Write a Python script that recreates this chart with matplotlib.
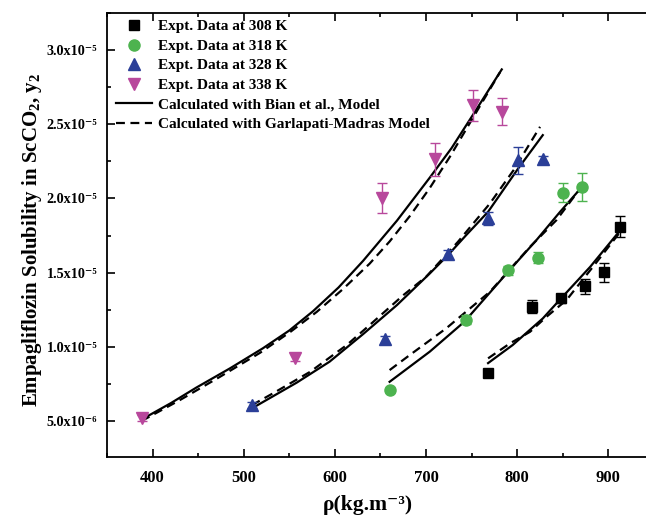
import numpy as np
import matplotlib
matplotlib.use('Agg')
import matplotlib.pyplot as plt
from matplotlib.lines import Line2D
from matplotlib.ticker import MultipleLocator, FixedLocator, FixedFormatter

plt.rcParams['font.family'] = ['Liberation Serif', 'DejaVu Serif']
plt.rcParams['font.weight'] = 'bold'
plt.rcParams['axes.labelweight'] = 'bold'
plt.rcParams['mathtext.fontset'] = 'custom'
plt.rcParams['mathtext.rm'] = 'Liberation Serif:bold'
plt.rcParams['mathtext.it'] = 'Liberation Serif:bold'
plt.rcParams['mathtext.bf'] = 'Liberation Serif:bold'
plt.rcParams['mathtext.default'] = 'bf'

# experimental data (solubility in units of 1e-6)
rho_308 = [768, 816, 848, 874, 895, 913]
y_308 = [8.21, 12.7, 13.26, 14.09, 15.01, 18.09]
err_308 = [0.15, 0.45, 0.3, 0.5, 0.64, 0.72]

rho_318 = [660, 744, 790, 823, 850, 871]
y_318 = [7.08, 11.84, 15.17, 16.02, 20.4, 20.78]
err_318 = [0.15, 0.3, 0.3, 0.4, 0.67, 0.94]

rho_328 = [509, 655, 724, 768, 801, 828]
y_328 = [6.07, 10.5, 16.23, 18.65, 22.58, 22.65]
err_328 = [0.2, 0.25, 0.3, 0.45, 0.92, 0.2]

rho_338 = [388, 556, 652, 710, 751, 783]
y_338 = [5.17, 9.26, 20.0, 22.63, 26.29, 25.84]
err_338 = [0.2, 0.25, 1.01, 1.12, 1.04, 0.91]

# Bian et al. model curves
bian_rho_308 = [768, 795, 828, 848, 880, 913]
bian_y_308 = [8.9, 10.12, 11.91, 13.26, 15.39, 17.86]
bian_rho_318 = [660, 704, 742, 790, 821, 847, 871]
bian_y_318 = [7.64, 9.67, 11.69, 15.06, 17.19, 19.1, 20.78]
bian_rho_328 = [509, 558, 594, 631, 668, 704, 724, 744, 768, 801, 828]
bian_y_328 = [5.85, 7.58, 8.99, 10.86, 12.81, 14.94, 16.18, 17.53, 19.1, 22.02, 24.27]
bian_rho_338 = [388, 420, 448, 485, 521, 550, 576, 604, 631, 668, 704, 728, 751, 783]
bian_y_338 = [5.1, 6.2, 7.25, 8.55, 9.9, 11.1, 12.4, 14.0, 15.8, 18.5, 21.4, 23.4,
              25.6, 28.7]

# Garlapati-Madras model curves
gm_rho_308 = [768, 792, 814, 832, 854, 883, 913]
gm_y_308 = [9.22, 10.23, 11.01, 12.02, 13.15, 15.39, 17.75]
gm_rho_318 = [660, 682, 722, 770, 814, 843, 869]
gm_y_318 = [8.43, 9.44, 11.24, 13.71, 16.74, 18.54, 20.67]
gm_rho_328 = [509, 532, 573, 613, 638, 675, 700, 735, 770, 796, 825]
gm_y_328 = [6.07, 6.86, 8.32, 10.12, 11.46, 13.48, 14.72, 17.08, 19.66, 21.91, 24.83]
gm_rho_338 = [388, 430, 474, 518, 551, 580, 609, 638, 660, 682, 704, 726, 752, 781]
gm_y_338 = [5.0, 6.41, 7.98, 9.6, 11.0, 12.35, 13.9, 15.6, 17.1, 18.8, 20.7,
            22.8, 25.5, 28.5]

labels = ['Expt. Data at 308 K', 'Expt. Data at 318 K',
          'Expt. Data at 328 K', 'Expt. Data at 338 K']
colors = ['#000000', '#4DB34F', '#2B3F98', '#B8489C']
markers = ['s', 'o', '^', 'v']
sizes = [7.5, 8, 8.5, 8.5]

yticks = [5e-6, 1e-5, 1.5e-5, 2e-5, 2.5e-5, 3e-5]
ytick_labels = ['5.0x10⁻⁶', '1.0x10⁻⁵', '1.5x10⁻⁵',
                '2.0x10⁻⁵', '2.5x10⁻⁵', '3.0x10⁻⁵']

fig = plt.figure(figsize=(6.46, 5.22), dpi=100)
ax = fig.add_axes([0.1656, 0.1245, 0.8468, 0.8505])

exp_data = [(rho_308, y_308, err_308), (rho_318, y_318, err_318),
            (rho_328, y_328, err_328), (rho_338, y_338, err_338)]
bian = [(bian_rho_308, bian_y_308), (bian_rho_318, bian_y_318),
        (bian_rho_328, bian_y_328), (bian_rho_338, bian_y_338)]
gm = [(gm_rho_308, gm_y_308), (gm_rho_318, gm_y_318),
      (gm_rho_328, gm_y_328), (gm_rho_338, gm_y_338)]

for (x, y), (x2, y2) in zip(bian, gm):
    ax.plot(x, np.array(y)*1e-6, color='k', lw=1.6, zorder=2)
    ax.plot(x2, np.array(y2)*1e-6, color='k', lw=1.6, dashes=(4, 2.5), zorder=2)

handles = []
for i, (x, y, e) in enumerate(exp_data):
    ax.errorbar(x, np.array(y)*1e-6, yerr=np.array(e)*1e-6, fmt='none',
                ecolor=colors[i], elinewidth=1, capsize=3.5, capthick=1, zorder=3)
    ax.plot(x, np.array(y)*1e-6, ls='none', marker=markers[i], ms=sizes[i],
            color=colors[i], mec=colors[i], zorder=4)
    handles.append(Line2D([], [], ls='none', marker=markers[i], ms=sizes[i],
                          color=colors[i]))

handles.append(Line2D([], [], color='k', lw=1.6))
handles.append(Line2D([], [], color='k', lw=1.6, dashes=(4, 2.5)))
leg_labels = labels + ['Calculated with Bian et al., Model',
                       'Calculated with Garlapati-Madras Model']
ax.legend(handles, leg_labels, loc='upper left', bbox_to_anchor=(0.016, 0.985),
          frameon=False, fontsize=11, handlelength=2.4, handletextpad=0.35,
          labelspacing=0.38, borderpad=0, borderaxespad=0)

ax.set_xlim(350, 950)
ax.set_ylim(2.57e-6, 3.25e-5)
ax.xaxis.set_major_locator(MultipleLocator(100))
ax.xaxis.set_minor_locator(MultipleLocator(50))
ax.yaxis.set_major_locator(FixedLocator(yticks))
ax.yaxis.set_major_formatter(FixedFormatter(ytick_labels))
ax.yaxis.set_minor_locator(MultipleLocator(2.5e-6))
ax.tick_params(which='both', direction='in', top=True, right=False, width=1.2)
ax.tick_params(which='major', length=6, pad=7)
ax.tick_params(axis='x', which='major', pad=9, labelsize=12)
ax.tick_params(axis='y', which='major', labelsize=10.2)
ax.tick_params(which='minor', length=3)
for s in ax.spines.values():
    s.set_linewidth(1.3)

ax.set_xlabel('ρ(kg.m⁻³)', fontsize=15.5)
ax.set_ylabel(r'Empagliflozin Solubility in ScCO$_2$, y$_2$', fontsize=15)
ax.xaxis.set_label_coords(0.477, -0.085)
ax.yaxis.set_label_coords(-0.116, 0.49)

fig.savefig('out.png', dpi=100)
